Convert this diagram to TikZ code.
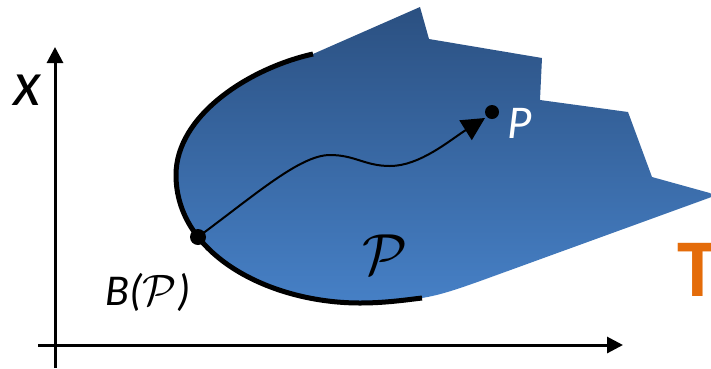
\RequirePackage{fix-cm}
\documentclass[tikz,border=0pt]{standalone}
\usepackage{fontspec}
\setmainfont{Carlito}
\usetikzlibrary{arrows.meta}
\definecolor{regtop}{HTML}{2B5081}
\definecolor{regbot}{HTML}{4680C6}
\definecolor{torange}{HTML}{E46C0A}
\tikzset{
  axis/.style={line width=3pt,-{Triangle[length=16pt,width=16pt]}},
  bound/.style={line width=5pt},
  traj/.style={line width=2pt,-{Triangle[length=23pt,width=23pt]}},
  lbl/.style={inner sep=0pt,font=\itshape},
}
\begin{document}
\begin{tikzpicture}[x=1pt,y=-1pt]
\useasboundingbox (0,0) rectangle (711,368);
% region
\shade[top color=regtop,bottom color=regbot]
  (313,54) -- (420,7) -- (429,39) -- (542,58) -- (540,100) -- (628,112)
  -- (652,177) -- (717,195) -- (483,280)
  .. controls (455,290) and (440,295) .. (422,298)
  .. controls (405,300) and (385,303) .. (360,303)
  .. controls (270,303) and (176,255) .. (176,175)
  .. controls (176,115) and (250,68) .. (313,54) -- cycle;
% boundary
\coordinate (bs) at (313,54);
\coordinate (be) at (422,298);
\draw[bound] (bs)
  .. controls (250,68) and (176,115) .. (176,175)
  .. controls (176,255) and (270,303) .. (360,303)
  .. controls (385,303) and (405,300) .. (be);
% axes
\coordinate (o1) at (55,368);
\coordinate (yt) at (55,47);
\coordinate (o2) at (38,345);
\coordinate (xt) at (623,345);
\draw[axis] (o1) -- (yt);
\draw[axis] (o2) -- (xt);
% points
\coordinate (b) at (198,237);
\coordinate (p) at (492,112);
\coordinate (c1) at (330,155);
\coordinate (c2) at (390,166);
\coordinate (pt) at (485,118);
\draw[traj] (b) .. controls (255,195) and (300,155) .. (c1)
  .. controls (355,155) and (365,166) .. (c2)
  .. controls (420,166) and (450,140) .. (pt);
\fill (b) circle (8pt);
\fill (p) circle (7pt);
% labels
\node[lbl,font=\fontsize{64}{64}\selectfont\itshape] (xl) at (27,90) {x};
\node[lbl,font=\fontsize{47}{47}\selectfont\itshape,text=white] (pl) at (520,123) {P};
\node[lbl,font=\fontsize{44}{44}\selectfont\itshape] (bl) at (148,292) {B($\mathcal{P}$)};
\node[lbl,font=\fontsize{58}{58}\selectfont] (rl) at (385,255) {$\mathcal{P}$};
\node[inner sep=0pt,anchor=base west,text=torange,font=\fontsize{82}{82}\selectfont\bfseries] (tl) at (677,296) {T};
\end{tikzpicture}
\end{document}
